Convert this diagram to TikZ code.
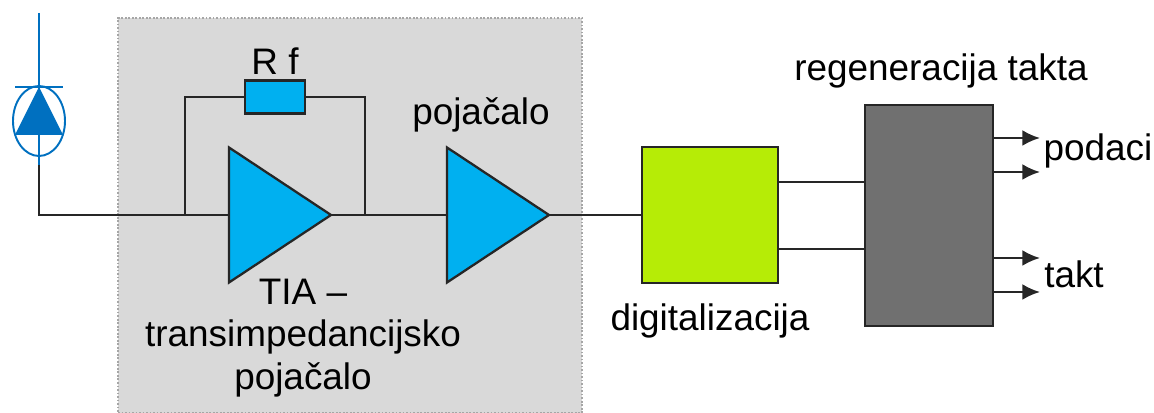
\documentclass[tikz,border=0pt]{standalone}
\usepackage{fontspec}
\setmainfont{Liberation Sans}
\usetikzlibrary{shapes.geometric, arrows.meta}
\definecolor{ampblue}{RGB}{0,176,240}
\definecolor{diodeblue}{RGB}{0,112,192}
\definecolor{panelgray}{RGB}{217,217,217}
\definecolor{digitgreen}{RGB}{182,236,6}
\definecolor{regengray}{RGB}{112,112,112}
\tikzset{
    wire/.style={line width=1.3pt, black!85},
    izlaz/.style={wire, -{Latex[length=10pt,width=9pt]}},
    amp/.style={draw=black!85, line width=1.3pt, fill=ampblue, isosceles triangle, isosceles triangle apex angle=67,
        isosceles triangle stretches, minimum width=2.7cm, minimum height=2.04cm, inner sep=0pt, outer sep=0pt, anchor=apex},
    blok/.style={draw=black!85, line width=1.3pt, inner sep=0pt, outer sep=0pt},
    natpis/.style={font=\fontsize{21}{25}\selectfont, inner sep=0pt, align=center}
}
\begin{document}
\begin{tikzpicture}
    \useasboundingbox (0,0) rectangle (23.08,8.26);

    % panel behind the two amplifiers
    \node[draw=black!35, densely dotted, line width=1pt, fill=panelgray, minimum width=9.28cm, minimum height=7.9cm, inner sep=0pt] (panel) at (7.0,3.95) {};

    % photodiode
    \coordinate (dtop) at (0.78,8.0);
    \coordinate (dbar) at (0.78,6.52);
    \coordinate (dbot) at (0.78,4.96);
    \coordinate (dcorner) at (0.78,3.96);
    \coordinate (barl) at (0.30,6.52);
    \coordinate (barr) at (1.26,6.52);
    \coordinate (basel) at (0.30,5.56);
    \coordinate (baser) at (1.26,5.56);
    \node[draw=diodeblue, ellipse, line width=1.1pt, minimum width=1.04cm, minimum height=1.40cm, inner sep=0pt] (diode) at (0.78,5.84) {};
    \draw[diodeblue, line width=1.1pt] (dtop) -- (dbot);
    \draw[diodeblue, line width=1.1pt] (barl) -- (barr);
    \fill[diodeblue] (dbar) -- (baser) -- (basel) -- cycle;

    % amplifiers
    \node[amp] (tia) at (6.62,3.96) {};
    \node[amp] (poj) at (10.98,3.96) {};

    % blocks
    \node[blok, fill=ampblue, minimum width=1.2cm, minimum height=0.66cm] (rf) at (5.5,6.32) {};
    \node[blok, fill=digitgreen, minimum width=2.72cm, minimum height=2.72cm] (dig) at (14.2,3.96) {};
    \node[blok, fill=regengray, minimum width=2.56cm, minimum height=4.42cm] (reg) at (18.58,3.95) {};

    % wires
    \coordinate (fbl) at (3.70,3.96);
    \coordinate (fbr) at (7.30,3.96);
    \coordinate (d1) at (15.56,4.62);
    \coordinate (d2) at (15.56,3.28);
    \coordinate (o1) at (20.8,5.50);
    \coordinate (o2) at (20.8,4.82);
    \coordinate (o3) at (20.8,3.10);
    \coordinate (o4) at (20.8,2.42);

    \draw[wire] (dbot) -- (dcorner) -- (tia.lower side);
    \draw[wire] (fbl) -- (fbl |- rf.west) -- (rf.west);
    \draw[wire] (rf.east) -- (fbr |- rf.east) -- (fbr);
    \draw[wire] (tia.apex) -- (poj.lower side);
    \draw[wire] (poj.apex) -- (dig.west);
    \draw[wire] (d1) -- (d1 -| reg.west);
    \draw[wire] (d2) -- (d2 -| reg.west);
    \draw[izlaz] (o1 -| reg.east) -- (o1);
    \draw[izlaz] (o2 -| reg.east) -- (o2);
    \draw[izlaz] (o3 -| reg.east) -- (o3);
    \draw[izlaz] (o4 -| reg.east) -- (o4);

    % labels
    \node[natpis] (rflabel) at (5.5,7.04) {R f};
    \node[natpis] (pojlabel) at (9.62,5.96) {pojačalo};
    \node[natpis] (tialabel) at (6.06,1.5) {TIA –\\[-1pt]transimpedancijsko\\[-1pt]pojačalo};
    \node[natpis] (diglabel) at (14.2,1.84) {digitalizacija};
    \node[natpis] (reglabel) at (18.82,6.84) {regeneracija takta};
    \node[natpis] (podlabel) at (21.96,5.24) {podaci};
    \node[natpis] (taktlabel) at (21.48,2.78) {takt};
\end{tikzpicture}
\end{document}
